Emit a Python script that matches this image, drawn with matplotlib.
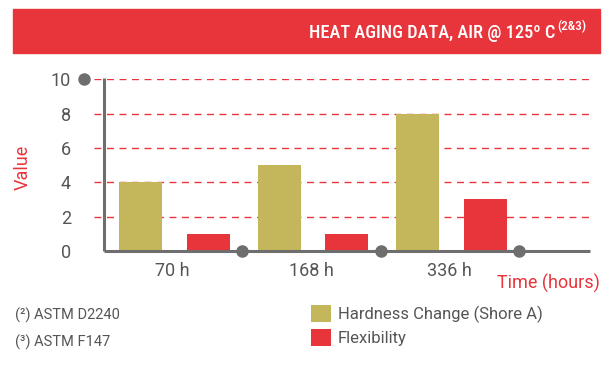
import matplotlib
matplotlib.use("Agg")
import matplotlib.pyplot as plt
from matplotlib.patches import Rectangle
import numpy as np

categories = ["70 h", "168 h", "336 h"]
hardness = [4, 5, 8]
flexibility = [1, 1, 3]
yticks = [0, 2, 4, 6, 8, 10]
series_names = ["Hardness Change (Shore A)", "Flexibility"]
footnotes = ["(\u00b2) ASTM D2240", "(\u00b3) ASTM F147"]
title = "HEAT AGING DATA, AIR @ 125\u00ba C"
title_sup = "(2&3)"

RED = "#E8343B"
OLIVE = "#C4B65A"
GRAY = "#6E6E6E"
TXT = "#555555"
FONT = ["Roboto", "DejaVu Sans"]
TFONT = ["Roboto Condensed", "DejaVu Sans"]

W, H = 614, 370
fig = plt.figure(figsize=(W / 100, H / 100), dpi=100)

def fx(px):
    return px / W

def fy(py):
    return 1 - py / H

# banner
fig.patches.append(Rectangle((fx(13), fy(52.7)), fx(600) - fx(13), fy(9) - fy(52.7),
                             transform=fig.transFigure, color=RED, zorder=0))
fig.text(fx(586), fy(30.5), title_sup, color="white", fontsize=9.5,
         ha="right", va="baseline", family=TFONT, fontweight="medium")
fig.text(fx(555), fy(38), title, color="white", fontsize=13.2, ha="right", va="baseline",
         family=TFONT, fontweight="medium")

# axes: x pixel 94 -> 590, y pixel 79.3 (10) -> 251 (0)
unit = 138.5
x0px = 103.5
left_px, right_px = 94, 590
ax = fig.add_axes([fx(left_px), fy(251), fx(right_px) - fx(left_px), fy(79.3) - fy(251)])
ax.set_xlim((left_px - x0px) / unit, (right_px - x0px) / unit)
ax.set_ylim(0, 10)
for s in ax.spines.values():
    s.set_visible(False)

idx = np.arange(len(categories))
bw = 43 / unit
ax.bar(idx + 0.27, hardness, width=bw, color=OLIVE, zorder=3, clip_on=False, label=series_names[0])
ax.bar(idx + 0.755, flexibility, width=bw, color=RED, zorder=3, clip_on=False, label=series_names[1])

for v in yticks[1:]:
    ax.axhline(v, color=RED, lw=1.0, ls=(0, (5, 4)), zorder=1)

# axis lines and dots
ax.plot([0, 0], [0, 10.1], color=GRAY, lw=2.2, zorder=4, clip_on=False, solid_capstyle="butt")
ax.plot([0, (right_px - x0px) / unit], [0, 0], color=GRAY, lw=2.2, zorder=4, clip_on=False,
        solid_capstyle="butt")
ax.plot(idx + 1, np.zeros(len(idx)), "o", color=GRAY, ms=8, zorder=5, clip_on=False)
ax.plot([(84 - x0px) / unit], [10], "o", color=GRAY, ms=8, zorder=5, clip_on=False)

ax.set_yticks(yticks)
ax.set_yticklabels([str(v) for v in yticks], fontsize=13, color=TXT, family=FONT)
ax.tick_params(axis="y", length=0, pad=(left_px - 71) * 0.72)
ax.set_xticks(idx + 0.5)
ax.set_xticklabels(categories, fontsize=13, color=TXT, family=FONT)
ax.tick_params(axis="x", length=0, pad=8)

fig.text(fx(23), fy(167), "Value", rotation=90, color=RED, fontsize=13, ha="center", va="center",
         family=FONT)
fig.text(fx(600), fy(283), "Time (hours)", color=RED, fontsize=13, ha="right", va="center",
         family=FONT)

for i, t in enumerate(footnotes):
    fig.text(fx(15), fy(315 + 27 * i), t, color=TXT, fontsize=10.5, ha="left", va="center",
             family=FONT)

leg = fig.legend(loc="upper left", bbox_to_anchor=(fx(311), fy(304.5)), frameon=False,
                 prop={"family": FONT, "size": 12},
                 handlelength=1.2, handleheight=1.2, handletextpad=0.4, labelspacing=0.4,
                 borderpad=0, borderaxespad=0)
for t in leg.get_texts():
    t.set_color(TXT)

fig.savefig("out.png", dpi=100)
